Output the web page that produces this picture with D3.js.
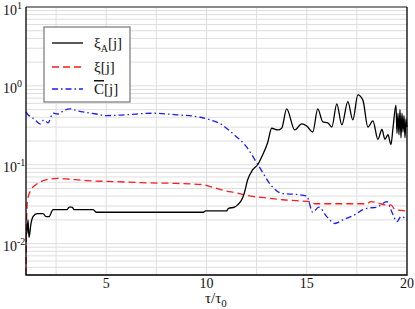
<!DOCTYPE html>
<html>
<head>
<meta charset="utf-8">
<script src="https://cdn.jsdelivr.net/npm/d3@7"></script>
<style>
  body { margin: 0; background: #fff; }
  svg text { font-family: "Liberation Serif", "Times New Roman", Times, "DejaVu Serif", serif; fill: #111; }
</style>
</head>
<body>
<svg id="chart" width="415" height="309" font-family="Liberation Serif, serif"></svg>
<script>
// black: xi_A[j]
var xiA = [
  [1.0,0.013],[1.05,0.014],[1.1,0.020],[1.15,0.012],[1.25,0.018],[1.35,0.022],[1.55,0.024],
  [1.85,0.024],[2.0,0.022],[2.15,0.022],[2.35,0.027],[3.05,0.027],[3.15,0.029],[3.3,0.029],
  [3.4,0.027],[4.35,0.027],[4.5,0.025],[9.85,0.025],[9.95,0.026],[11.0,0.026],[11.1,0.028],
  [11.4,0.029],[11.55,0.031],[11.8,0.038],[11.9,0.045],[12.05,0.064],[12.3,0.086],[12.55,0.10],
  [12.8,0.133],[13.05,0.19],[13.25,0.29],[13.55,0.276],[13.75,0.29],[14.0,0.51],[14.4,0.276],
  [14.75,0.33],[15.0,0.31],[15.3,0.26],[15.55,0.51],[15.8,0.35],[16.05,0.34],[16.25,0.30],
  [16.5,0.59],[16.75,0.32],[17.05,0.63],[17.3,0.37],[17.55,0.77],[17.8,0.66],[18.05,0.30],
  [18.3,0.36],[18.55,0.21],[18.75,0.28],[18.9,0.21],[19.05,0.24],[19.2,0.18],[19.3,0.29],
  [19.45,0.57],[19.5,0.25],[19.55,0.45],[19.6,0.24],[19.65,0.50],[19.7,0.22],[19.75,0.45],
  [19.8,0.26],[19.85,0.42],[19.9,0.22],[19.95,0.38],[20.0,0.30]
];
// red dashed: xi[j]
var xi = [
  [1.0,0.004],[1.03,0.02],[1.08,0.036],[1.25,0.048],[1.5,0.056],[1.8,0.062],[2.2,0.066],
  [2.6,0.067],[3.0,0.066],[4.0,0.063],[5.5,0.061],[7.0,0.059],[8.5,0.058],[9.8,0.056],
  [10.3,0.052],[10.9,0.047],[11.5,0.044],[12.2,0.040],[13.0,0.038],[13.8,0.036],[14.5,0.035],
  [15.2,0.034],[15.4,0.032],[18.0,0.032],[18.2,0.034],[18.5,0.033],[18.9,0.031],[19.2,0.031],
  [19.4,0.027],[20.0,0.026]
];
// blue dash-dot: C[j]
var cbar = [
  [1.0,0.47],[1.1,0.43],[1.3,0.40],[1.5,0.36],[1.7,0.33],[1.9,0.37],[2.1,0.34],[2.35,0.45],
  [2.6,0.44],[2.9,0.49],[3.2,0.51],[3.6,0.48],[4.0,0.46],[4.5,0.44],[5.0,0.42],[6.0,0.43],
  [7.3,0.45],[8.5,0.43],[9.7,0.40],[10.2,0.37],[10.7,0.33],[11.3,0.25],[12.0,0.168],
  [12.6,0.097],[13.3,0.052],[13.8,0.043],[14.5,0.042],[15.0,0.040],[15.3,0.025],[15.6,0.029],
  [16.0,0.022],[16.4,0.018],[16.8,0.020],[17.2,0.022],[17.5,0.024],[17.8,0.027],[18.0,0.028],
  [18.5,0.029],[19.0,0.034],[19.25,0.025],[19.5,0.019],[19.7,0.022],[20.0,0.020]
];
var xTicks = [5, 10, 15, 20];
var yTicks = [1e-2, 1e-1, 1e0, 1e1];
var yExps = ["-2", "-1", "0", "1"];

var svg = d3.select("#chart");
var pl = 26, pr = 407, pt = 7, pb = 275;
var serif = "'Liberation Serif', 'Times New Roman', serif";

var x = d3.scaleLinear().domain([1, 20]).range([pl, pr]);
var y = d3.scaleLog().domain([0.004, 10]).range([pb, pt]);

// grid
var grid = svg.append("g").attr("stroke", "#dedede").attr("stroke-width", 1);
var minor = [];
[0.001, 0.01, 0.1, 1].forEach(function(d) {
  for (var k = 1; k <= 9; k++) { var v = d * k; if (v >= 0.004 && v <= 10) minor.push(v); }
});
grid.selectAll(".hy").data(minor).enter().append("line")
    .attr("x1", pl).attr("x2", pr)
    .attr("y1", function(d) { return y(d); }).attr("y2", function(d) { return y(d); });
grid.selectAll(".vx").data(d3.range(2.5, 20, 2.5)).enter().append("line")
    .attr("y1", pt).attr("y2", pb)
    .attr("x1", function(d) { return x(d); }).attr("x2", function(d) { return x(d); });

// series
var line = d3.line()
    .x(function(d) { return x(d[0]); })
    .y(function(d) { return y(d[1]); })
    .curve(d3.curveMonotoneX);

svg.append("path").datum(cbar).attr("d", line)
    .attr("fill", "none").attr("stroke", "#1a1aff").attr("stroke-width", 1.3)
    .attr("stroke-dasharray", "6,3,1.5,3");
svg.append("path").datum(xi).attr("d", line)
    .attr("fill", "none").attr("stroke", "#ff1a1a").attr("stroke-width", 1.3)
    .attr("stroke-dasharray", "7,4");
svg.append("path").datum(xiA).attr("d", line)
    .attr("fill", "none").attr("stroke", "#000").attr("stroke-width", 1.3);

// frame
svg.append("line").attr("x1", pl).attr("x2", pr).attr("y1", pt).attr("y2", pt)
    .attr("stroke", "#8a8a8a").attr("stroke-width", 2);
svg.append("path")
    .attr("d", "M" + pl + "," + pt + "V" + pb + "H" + pr + "V" + pt)
    .attr("fill", "none").attr("stroke", "#000").attr("stroke-width", 1.3);

// y tick labels
var yl = svg.selectAll(".ylab").data(yTicks).enter().append("text")
    .attr("x", 3).attr("y", function(d) { return y(d) + 7.5; })
    .style("font-family", serif).style("font-size", "14px");
yl.append("tspan").text("10");
yl.append("tspan").attr("dy", -6).style("font-size", "10px")
    .text(function(d, i) { return yExps[i]; });

// x tick labels
svg.selectAll(".xlab").data(xTicks).enter().append("text")
    .attr("x", function(d) { return x(d); }).attr("y", 288)
    .attr("text-anchor", "middle")
    .style("font-family", serif).style("font-size", "14px")
    .text(function(d) { return d; });

var xt = svg.append("text").attr("x", 205).attr("y", 303)
    .style("font-family", serif).style("font-size", "15px");
xt.append("tspan").text("\u03c4/\u03c4");
xt.append("tspan").attr("dy", 4).style("font-size", "11px").text("0");

// legend
var lg = svg.append("g");
lg.append("rect").attr("x", 44).attr("y", 27).attr("width", 86).attr("height", 75)
    .attr("fill", "#fff").attr("stroke", "#777").attr("stroke-width", 1.2);
var items = [
  { y: 43, color: "#000", dash: null },
  { y: 67, color: "#ff1a1a", dash: "7,4" },
  { y: 89, color: "#1a1aff", dash: "6,3,1.5,3" }
];
lg.selectAll(".li").data(items).enter().append("line")
    .attr("x1", 52).attr("x2", 83)
    .attr("y1", function(d) { return d.y; }).attr("y2", function(d) { return d.y; })
    .attr("stroke", function(d) { return d.color; }).attr("stroke-width", 1.3)
    .attr("stroke-dasharray", function(d) { return d.dash; });

var t1 = lg.append("text").attr("x", 94).attr("y", 48)
    .style("font-family", serif).style("font-size", "15px");
t1.append("tspan").text("\u03be");
t1.append("tspan").attr("dy", 4).style("font-size", "10px").text("A");
t1.append("tspan").attr("dy", -4).text("[j]");
lg.append("text").attr("x", 94).attr("y", 72)
    .style("font-family", serif).style("font-size", "15px").text("\u03be[j]");
var t3 = lg.append("text").attr("x", 94).attr("y", 94)
    .style("font-family", serif).style("font-size", "15px");
t3.append("tspan").style("text-decoration", "overline").text("C");
t3.append("tspan").text("[j]");
</script>
</body>
</html>
